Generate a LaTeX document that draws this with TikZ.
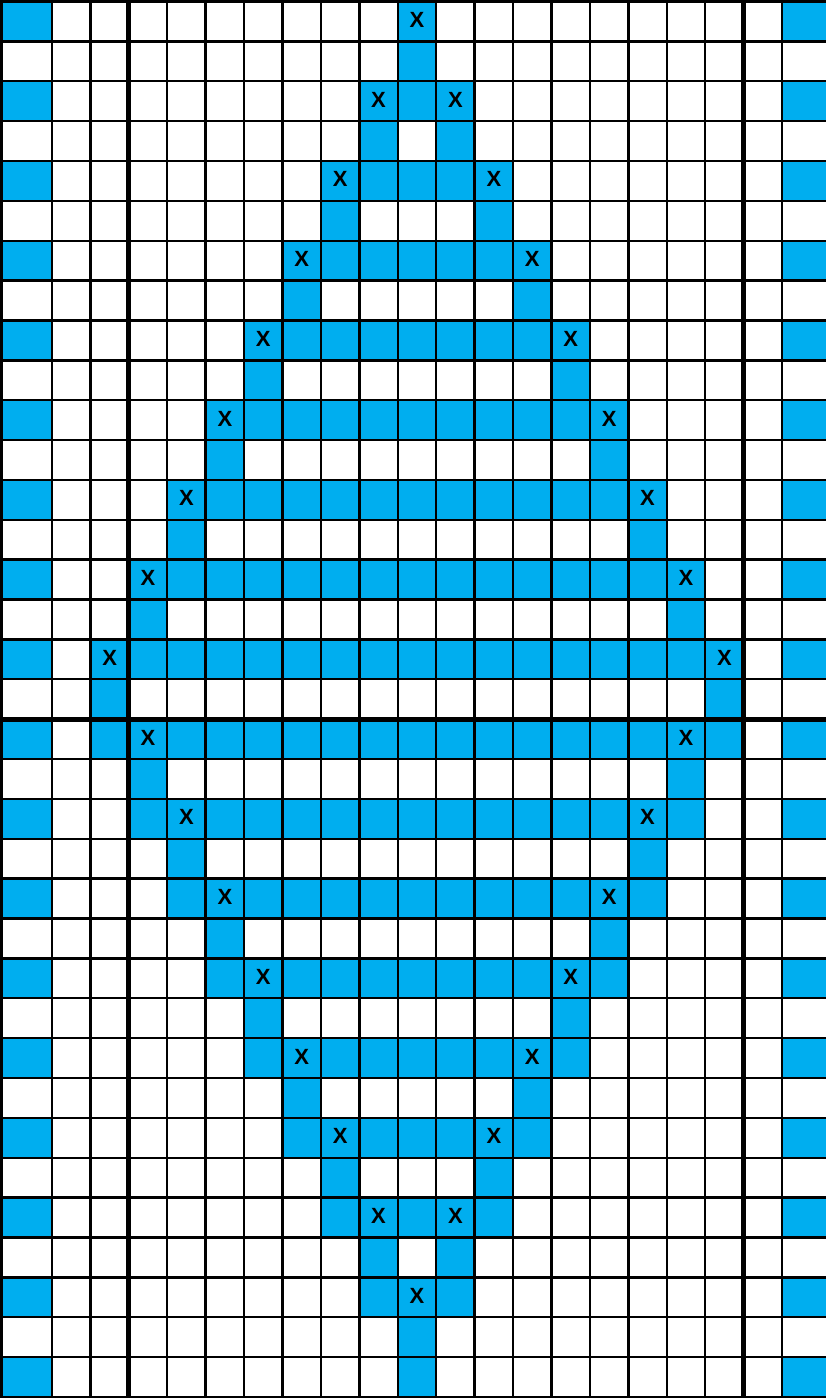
\documentclass[tikz,border=0pt]{standalone}
\usepackage{fontspec}
\setmainfont{Liberation Sans}[BoldFont={Liberation Sans Bold}]
\definecolor{cellblue}{RGB}{0,174,239}
\tikzset{
  cell/.style={fill=cellblue, draw=none},
  gridline/.style={line width=2.4pt, draw=black},
  thickline/.style={line width=5pt, draw=black},
  xmark/.style={font=\fontsize{22}{22}\selectfont\bfseries, inner sep=0pt, text=black},
  declare function={
    colx(\k)=ifthenelse(\k<0.5,1.5,ifthenelse(\k>20.5,826,52+(\k-1)*38.42));
    rowy(\k)=1.5+\k*39.87;
  }
}
\begin{document}
\begin{tikzpicture}[x=1pt,y=-1pt]
\useasboundingbox (0,0) rectangle (826,1399);
\fill[white] (0,0) rectangle (826,1399);
% outer columns: blue on even rows
\foreach \r in {0,2,...,34}{
  \fill[cell] ({colx(0)},{rowy(\r)}) rectangle ({colx(1)},{rowy(\r+1)});
  \fill[cell] ({colx(20)},{rowy(\r)}) rectangle ({colx(21)},{rowy(\r+1)});
}
% upper half
\foreach \k in {0,...,8}{
  \pgfmathtruncatemacro\a{10-\k}
  \pgfmathtruncatemacro\b{10+\k}
  \pgfmathtruncatemacro\r{2*\k}
  \pgfmathtruncatemacro\rr{2*\k+1}
  \fill[cell] ({colx(\a)},{rowy(\r)}) rectangle ({colx(\b+1)},{rowy(\r+1)});
  \fill[cell] ({colx(\a)},{rowy(\rr)}) rectangle ({colx(\a+1)},{rowy(\rr+1)});
  \fill[cell] ({colx(\b)},{rowy(\rr)}) rectangle ({colx(\b+1)},{rowy(\rr+1)});
}
% lower half
\foreach \j in {0,...,8}{
  \pgfmathtruncatemacro\a{2+\j}
  \pgfmathtruncatemacro\b{18-\j}
  \pgfmathtruncatemacro\r{18+2*\j}
  \fill[cell] ({colx(\a)},{rowy(\r)}) rectangle ({colx(\b+1)},{rowy(\r+1)});
}
\foreach \j in {0,...,7}{
  \pgfmathtruncatemacro\a{3+\j}
  \pgfmathtruncatemacro\b{17-\j}
  \pgfmathtruncatemacro\rr{19+2*\j}
  \fill[cell] ({colx(\a)},{rowy(\rr)}) rectangle ({colx(\a+1)},{rowy(\rr+1)});
  \fill[cell] ({colx(\b)},{rowy(\rr)}) rectangle ({colx(\b+1)},{rowy(\rr+1)});
}
% grid lines
\foreach \k in {0,...,20}{
  \draw[gridline] ({colx(\k)},{rowy(0)-1.2}) -- ({colx(\k)},{rowy(35)+1.2});
}
\foreach \k in {0,...,35}{
  \draw[gridline] ({colx(0)-1.2},{rowy(\k)}) -- (826,{rowy(\k)});
}
\draw[thickline] ({colx(3)},{rowy(0)}) -- ({colx(3)},{rowy(35)});
\draw[thickline] ({colx(19)},{rowy(0)}) -- ({colx(19)},{rowy(35)});
\draw[thickline] ({colx(0)-1.2},{rowy(18)}) -- (826,{rowy(18)});
% X marks, upper half
\foreach \k in {0,...,8}{
  \pgfmathtruncatemacro\a{10-\k}
  \pgfmathtruncatemacro\b{10+\k}
  \pgfmathtruncatemacro\r{2*\k}
  \node[xmark] (xl\r) at ({(colx(\a)+colx(\a+1))/2},{(rowy(\r)+rowy(\r+1))/2-1.5}) {X};
  \ifnum\k>0
    \node[xmark] (xr\r) at ({(colx(\b)+colx(\b+1))/2},{(rowy(\r)+rowy(\r+1))/2-1.5}) {X};
  \fi
}
% X marks, lower half
\foreach \j in {0,...,7}{
  \pgfmathtruncatemacro\a{3+\j}
  \pgfmathtruncatemacro\b{17-\j}
  \pgfmathtruncatemacro\r{18+2*\j}
  \node[xmark] (xl\r) at ({(colx(\a)+colx(\a+1))/2},{(rowy(\r)+rowy(\r+1))/2-1.5}) {X};
  \ifnum\j<7
    \node[xmark] (xr\r) at ({(colx(\b)+colx(\b+1))/2},{(rowy(\r)+rowy(\r+1))/2-1.5}) {X};
  \fi
}
\end{tikzpicture}
\end{document}
